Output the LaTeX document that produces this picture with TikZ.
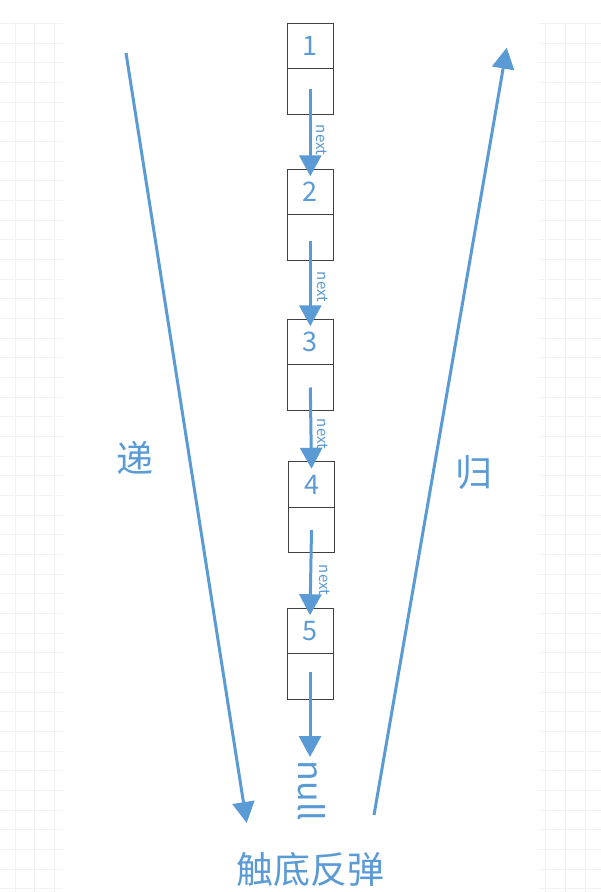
\documentclass[tikz,border=0pt]{standalone}
\usepackage{fontspec}
\setmainfont{Noto Sans CJK SC}
\usetikzlibrary{arrows.meta}
\definecolor{myblue}{HTML}{5B9BD5}
\definecolor{boxgray}{HTML}{404040}
\definecolor{gridgray}{HTML}{F2F2F2}
\begin{document}
\begin{tikzpicture}[x=1pt,y=-1pt,
  cell/.style={draw=boxgray, line width=1pt, minimum width=46pt, minimum height=45.5pt, inner sep=0pt, outer sep=0pt, text=myblue, font=\fontsize{27}{27}\selectfont},
  link/.style={draw=myblue, line width=3pt, -{Triangle[length=21pt,width=22pt]}},
  nextlbl/.style={text=myblue, rotate=-90, font=\fontsize{15}{15}\selectfont, inner sep=0pt},
  nulllbl/.style={text=myblue, rotate=-90, font=\fontsize{34}{34}\selectfont, inner sep=0pt},
  cjk/.style={text=myblue, font=\fontsize{37}{37}\selectfont, inner sep=0pt},
  gridline/.style={draw=gridgray, line width=0.8pt}]
\fill[white] (0,0) rectangle (601,892);
\useasboundingbox (0,0) rectangle (601,892);
% faint grid in the margins
\foreach \k in {0,...,44} {
  \draw[gridline] (0,{23.3+19.67*\k}) -- (63,{23.3+19.67*\k});
  \draw[gridline] (539,{23.3+19.67*\k}) -- (601,{23.3+19.67*\k});
}
\foreach \xx in {15,34.7,54.3,545.7,565.7,585.7}
  \draw[gridline] (\xx,22) -- (\xx,892);
% list cells
\node[cell] (b1t) at (310.3,46) {1};
\node[cell, anchor=north] (b1b) at (b1t.south) {};
\node[cell] (b2t) at (310.3,192) {2};
\node[cell, anchor=north] (b2b) at (b2t.south) {};
\node[cell] (b3t) at (310.3,342) {3};
\node[cell, anchor=north] (b3b) at (b3t.south) {};
\node[cell] (b4t) at (311.5,484.5) {4};
\node[cell, anchor=north] (b4b) at (b4t.south) {};
\node[cell] (b5t) at (310,631) {5};
\node[cell, anchor=north] (b5b) at (b5t.south) {};
% next links
\draw[link] ([yshift=3pt]b1b.center) -- ([yshift=-7pt]b2t.north);
\draw[link] ([yshift=-3pt]b2b.center) -- ([yshift=-7pt]b3t.north);
\draw[link] (b3b.center) -- ([yshift=-7pt]b4t.north);
\draw[link] (b4b.center) -- ([yshift=-7pt]b5t.north);
\node[nextlbl] (n1) at (322,140) {next};
\node[nextlbl] (n2) at (323,287) {next};
\node[nextlbl] (n3) at (323,434) {next};
\node[nextlbl] (n4) at (325,580) {next};
% null
\node[nulllbl] (null) at (312,791) {null};
\coordinate (nulltip) at (310,757);
\draw[link] ([yshift=5pt]b5b.center) -- (nulltip);
% recursion arrows
\coordinate (dstart) at (126,53);
\coordinate (dend) at (246.7,823);
\coordinate (gstart) at (374,815);
\coordinate (gend) at (506.7,47.7);
\draw[link] (dstart) -- (dend);
\draw[link] (gstart) -- (gend);
% labels
\node[cjk] (di) at (135,458) {递};
\node[cjk] (gui) at (474,473) {归};
\node[cjk] (bottom) at (310,869) {触底反弹};
\end{tikzpicture}
\end{document}
